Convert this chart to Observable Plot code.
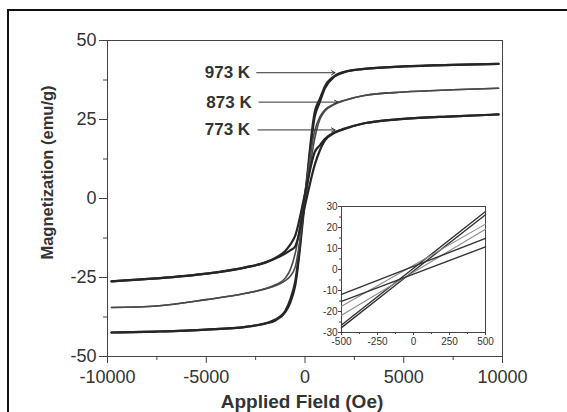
<!DOCTYPE html>
<html><head><meta charset="utf-8">
<script src="https://cdn.jsdelivr.net/npm/d3@7"></script>
<script src="https://cdn.jsdelivr.net/npm/@observablehq/plot@0.6"></script>
<style>
body{margin:0;background:#fff;overflow:hidden;}
#wrap{position:relative;width:567px;height:412px;overflow:hidden;font-family:"Liberation Sans",Arial,sans-serif;}
#border{position:absolute;left:7px;top:9px;width:640px;height:540px;border:2.5px solid #111;box-sizing:border-box;}
#main{position:absolute;left:0;top:0;}
#inset{position:absolute;left:315px;top:200px;}
</style></head><body>
<div id="wrap"><div id="main"></div><div id="inset"></div><div id="border"></div></div>
<script>
// ---- data ----
const temps = ["973 K", "873 K", "773 K"];
const fieldOe = [-9800,-7500,-5000,-3000,-2000,-1500,-1000,-750,-500,0,500,750,1000,1500,2000,3000,5000,7500,9800];
// ascending-field branch (emu/g)
const m973Asc  = [-42.4,-42.1,-41.5,-40.6,-39.6,-38.6,-36.0,-33.0,-27.7,-0.7,26.1,30.5,34.8,38.6,40.0,41.0,41.8,42.3,42.6];
const m873Asc  = [-34.5,-34.0,-32.0,-30.0,-28.6,-27.6,-26.0,-24.6,-21.8,-1.3,19.2,25.0,27.6,29.8,31.0,32.6,33.7,34.4,34.9];
const m773Asc  = [-26.2,-25.3,-23.8,-21.8,-20.3,-19.0,-17.4,-16.4,-15.2,-2.2,10.8,15.2,18.3,20.8,22.0,23.8,25.2,26.0,26.6];
// descending-field branch (emu/g), listed in the same field order
const m973Desc = [-42.4,-42.1,-41.5,-40.6,-39.5,-38.3,-35.6,-32.0,-26.4,0.6,27.6,31.5,35.4,38.8,40.1,41.0,41.8,42.3,42.6];
const m873Desc = [-34.5,-34.0,-32.0,-30.0,-28.5,-27.3,-25.2,-22.6,-17.5,2.0,21.6,25.8,28.0,30.0,31.1,32.6,33.7,34.4,34.9];
const m773Desc = [-26.2,-25.3,-23.8,-21.8,-20.2,-18.8,-16.6,-14.6,-11.8,1.5,14.8,16.8,18.8,21.0,22.1,23.8,25.2,26.0,26.6];

const yTicks = [-50,-25,0,25,50];
const xTicks = [-10000,-5000,0,5000,10000];
const insetYTicks = [-30,-20,-10,0,10,20,30];
const insetXTicks = [-500,-250,0,250,500];

// annotation labels
const labelText = ["973 K","873 K","773 K"];
const labelM = [39.8, 30.5, 21.7];
const labelTextH = [-2780, -2700, -2780];
const arrowFromH = [-2450, -2330, -2380];
const arrowToH = [1520, 1670, 1520];

// ---- build table ----
const branches = {
  "973 K": {asc: m973Asc, desc: m973Desc},
  "873 K": {asc: m873Asc, desc: m873Desc},
  "773 K": {asc: m773Asc, desc: m773Desc}
};
const rows = [];
for (const t of temps) for (const b of ["asc","desc"]) {
  branches[t][b].forEach((m, i) => rows.push({T: t, branch: b, H: fieldOe[i], M: m}));
}
const labels = labelText.map((t, i) => ({t, M: labelM[i], Ht: labelTextH[i], H1: arrowFromH[i], H2: arrowToH[i]}));

const style = {
  "973 K": {stroke: "#262626", w: 2.2, insetStroke: "#333", insetW: 1.4},
  "873 K": {stroke: "#4a4a4a", w: 1.6, insetStroke: "#8c8c8c", insetW: 1.1},
  "773 K": {stroke: "#262626", w: 2.2, insetStroke: "#333", insetW: 1.4}
};
const fmt = d => String(d);

const mainMarks = [
  Plot.frame({stroke: "#444", strokeWidth: 1}),
  Plot.axisY(yTicks, {tickSize: 8, tickPadding: 3, fontSize: 18, tickFormat: fmt, stroke: "#444"}),
  Plot.axisY([-37.5,-12.5,12.5,37.5], {tickSize: 4, tickFormat: () => "", stroke: "#444"}),
  Plot.axisX(xTicks, {tickSize: 7, tickPadding: 7, fontSize: 18, tickFormat: fmt, stroke: "#444"}),
  Plot.axisX([-7500,-2500,2500,7500], {tickSize: 4, tickFormat: () => "", stroke: "#444"}),
  ...temps.map(t => Plot.line(rows.filter(r => r.T === t), {
    x: "H", y: "M", z: "branch", stroke: style[t].stroke, strokeWidth: style[t].w, curve: "monotone-x"
  })),
  Plot.arrow(labels, {x1: "H1", y1: "M", x2: "H2", y2: "M", stroke: "#333", strokeWidth: 1, headLength: 6}),
  Plot.text(labels, {x: "Ht", y: "M", text: "t", textAnchor: "end", fontSize: 17, fontWeight: "bold", fill: "#333", style: "letter-spacing:1px"}),
  Plot.text(["Magnetization (emu/g)"], {frameAnchor: "left", textAnchor: "middle", rotate: -90, dx: -60, dy: -26, fontSize: 16.5, fontWeight: "bold", fill: "#333"}),
  Plot.text(["Applied Field (Oe)"], {frameAnchor: "bottom", textAnchor: "middle", lineAnchor: "middle", dx: -3, dy: 45, fontSize: 19, fontWeight: "bold", fill: "#333"})
];

const main = Plot.plot({
  width: 567, height: 412,
  marginLeft: 107, marginRight: 65, marginTop: 40, marginBottom: 56,
  style: {fontFamily: '"Liberation Sans", Arial, sans-serif', color: "#333", background: "transparent", overflow: "visible"},
  x: {domain: [-10000, 10000], label: null},
  y: {domain: [-50, 50], label: null},
  marks: mainMarks
});
document.getElementById("main").appendChild(main);

const insetRows = rows.filter(r => r.H >= -500 && r.H <= 500);
const inset = Plot.plot({
  width: 176, height: 148,
  marginLeft: 26, marginRight: 6, marginTop: 6, marginBottom: 16,
  style: {fontFamily: '"Liberation Sans", Arial, sans-serif', color: "#333", background: "transparent", overflow: "visible"},
  x: {domain: [-500, 500], label: null},
  y: {domain: [-30, 30], label: null},
  marks: [
    Plot.frame({stroke: "#444", strokeWidth: 1}),
    Plot.axisY(insetYTicks, {tickSize: 3, tickPadding: 1, fontSize: 10, tickFormat: fmt, stroke: "#444"}),
    Plot.axisY([-25,-15,-5,5,15,25], {tickSize: 2, tickFormat: () => "", stroke: "#444"}),
    Plot.axisX(insetXTicks, {tickSize: 3, tickPadding: 2, fontSize: 10, tickFormat: fmt, stroke: "#444"}),
    Plot.axisX([-375,-125,125,375], {tickSize: 2, tickFormat: () => "", stroke: "#444"}),
    ...temps.map(t => Plot.line(insetRows.filter(r => r.T === t), {
      x: "H", y: "M", z: "branch", stroke: style[t].insetStroke, strokeWidth: style[t].insetW
    }))
  ]
});
document.getElementById("inset").appendChild(inset);
</script>
</body></html>
